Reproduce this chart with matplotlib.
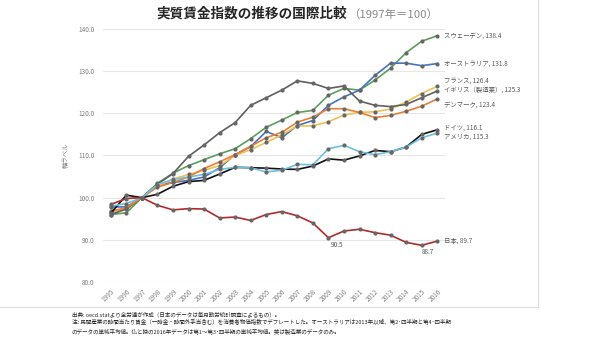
import matplotlib
matplotlib.use("Agg")
import matplotlib.pyplot as plt
from matplotlib.lines import Line2D

FONT = ['Noto Sans CJK JP', 'DejaVu Sans']
plt.rcParams['font.family'] = FONT

years = [str(y) for y in range(1995, 2017)]

japan = [98.4, 99.8, 100, 98.2, 97.1, 97.4, 97.3, 95.2, 95.4, 94.6, 96.0, 96.7,
         95.7, 94.0, 90.5, 92.1, 92.5, 91.7, 91.1, 89.4, 88.7, 89.7]
sweden = [96.0, 96.4, 100, 103.4, 105.8, 107.6, 109.0, 110.4, 111.6, 114.0, 116.7, 118.4,
          120.2, 120.7, 124.3, 125.9, 125.5, 127.9, 130.7, 134.4, 137.1, 138.4]
australia = [97.8, 97.8, 100, 103.0, 103.6, 104.1, 104.9, 107.1, 110.2, 112.1, 115.7, 114.2,
             117.1, 118.3, 121.9, 123.9, 125.5, 129.0, 131.9, 131.9, 131.3, 131.8]
france = [96.5, 97.5, 100, 102.7, 104.4, 105.5, 106.5, 107.6, 110.0, 111.4, 113.1, 114.9,
          117.0, 117.0, 118.0, 119.6, 120.2, 120.4, 121.0, 122.7, 124.7, 126.4]
uk = [96.0, 97.3, 100, 103.2, 105.7, 109.8, 112.5, 115.4, 117.8, 121.9, 123.7, 125.5,
      127.7, 127.1, 125.9, 126.5, 122.9, 121.9, 121.6, 122.1, 123.7, 125.3]
denmark = [96.8, 97.6, 100, 102.5, 103.6, 104.9, 106.9, 108.5, 110.2, 112.2, 114.2, 115.5,
           117.9, 119.1, 121.1, 121.1, 120.2, 119.0, 119.5, 120.5, 121.7, 123.4]
germany = [96.3, 100.6, 100, 100.8, 102.7, 103.8, 104.1, 105.6, 107.2, 107.1, 107.0, 106.8,
           106.7, 107.5, 109.2, 108.9, 109.9, 111.2, 110.9, 112.0, 115.0, 116.1]
usa = [98.0, 98.6, 100, 103.1, 104.3, 104.9, 105.5, 106.7, 107.2, 107.1, 106.1, 106.5,
       107.9, 107.8, 111.6, 112.4, 110.9, 110.2, 110.9, 112.0, 114.2, 115.3]

series = [
    ("スウェーデン", sweden, "#5a9e5e", 0.0),
    ("オーストラリア", australia, "#4472c4", 0.0),
    ("フランス", france, "#f2c04e", 1.0),
    ("イギリス（製造業）", uk, "#5f5f5f", 0.2),
    ("デンマーク", denmark, "#ed7d31", -1.0),
    ("ドイツ", germany, "#111111", 0.4),
    ("アメリカ", usa, "#6cc0e0", -0.6),
    ("日本", japan, "#b22a2a", 0.0),
]
label_text = ["スウェーデン, 138.4", "オーストラリア, 131.8", "フランス, 126.4",
              "イギリス（製造業）, 125.3", "デンマーク, 123.4", "ドイツ, 116.1",
              "アメリカ, 115.3", "日本, 89.7"]

fig = plt.figure(figsize=(6.02, 3.49), dpi=100)
ax = fig.add_axes([103/602, 1-282/349, (445-103)/602, (282-29)/349])

x = list(range(len(years)))
for (name, vals, col, off), lab in zip(series, label_text):
    ax.plot(x, vals, color=col, lw=1.2, marker='o', ms=2.0,
            markerfacecolor="#666666", markeredgecolor="#666666", zorder=3)
    ax.annotate(lab, xy=(x[-1], vals[-1]), xytext=(5, off*4.2),
                textcoords='offset points', fontsize=4.6, color="#595959",
                va='center', ha='left')

ax.annotate("90.5", xy=(14, japan[14]), xytext=(2, -2), textcoords='offset points',
            fontsize=4.6, color="#595959", va='top', ha='left')
ax.annotate("88.7", xy=(20, japan[20]), xytext=(0, -2), textcoords='offset points',
            fontsize=4.6, color="#595959", va='top', ha='left')

ax.set_xlim(-0.5, len(years) - 0.5)
ax.set_ylim(80, 140)
ax.set_yticks([80, 90, 100, 110, 120, 130, 140])
ax.set_yticklabels([f"{v:.1f}" for v in [80, 90, 100, 110, 120, 130, 140]])
ax.set_xticks(x)
ax.set_xticklabels(years, rotation=45, ha='right', rotation_mode='anchor')
ax.tick_params(axis='both', length=0, labelsize=4.6, colors="#7f7f7f", pad=6)
ax.tick_params(axis='x', pad=4)
ax.grid(axis='y', color="#e6e6e6", lw=0.8)
ax.set_axisbelow(True)
for s in ax.spines.values():
    s.set_visible(False)
ax.set_ylabel("軸ラベル", fontsize=4.6, color="#7f7f7f", labelpad=6)

fig.text(347/602, 1-14/349, "実質賃金指数の推移の国際比較", fontsize=9.8, fontweight='bold',
         ha='right', va='center', color="#262626")
fig.text(348/602, 1-14/349, "（1997年＝100）", fontsize=8.2, ha='left', va='center',
         color="#8a8a8a")

# frame lines
fig.add_artist(Line2D([538/602, 538/602], [1-307/349, 1.0], transform=fig.transFigure,
                      color="#dddddd", lw=0.8))
fig.add_artist(Line2D([0.0, 538/602], [1-307/349, 1-307/349], transform=fig.transFigure,
                      color="#dddddd", lw=0.8))

notes = [
    "出典: oecd.statより全労連が作成（日本のデータは毎月勤労統計調査によるもの）。",
    "注: 民間産業の時間当たり賃金（一時金・時間外手当含む）を消費者物価指数でデフレートした。オーストラリアは2013年以降、第2･四半期と第4･四半期",
    "のデータの単純平均値。仏と独の2016年データは第1～第3･四半期の単純平均値。英は製造業のデータのみ。",
]
for i, t in enumerate(notes):
    fig.text(72/602, 1-(314 + i*8.5)/349, t, fontsize=4.0, color="#262626",
             ha='left', va='center')

fig.savefig("out.png", dpi=100)
